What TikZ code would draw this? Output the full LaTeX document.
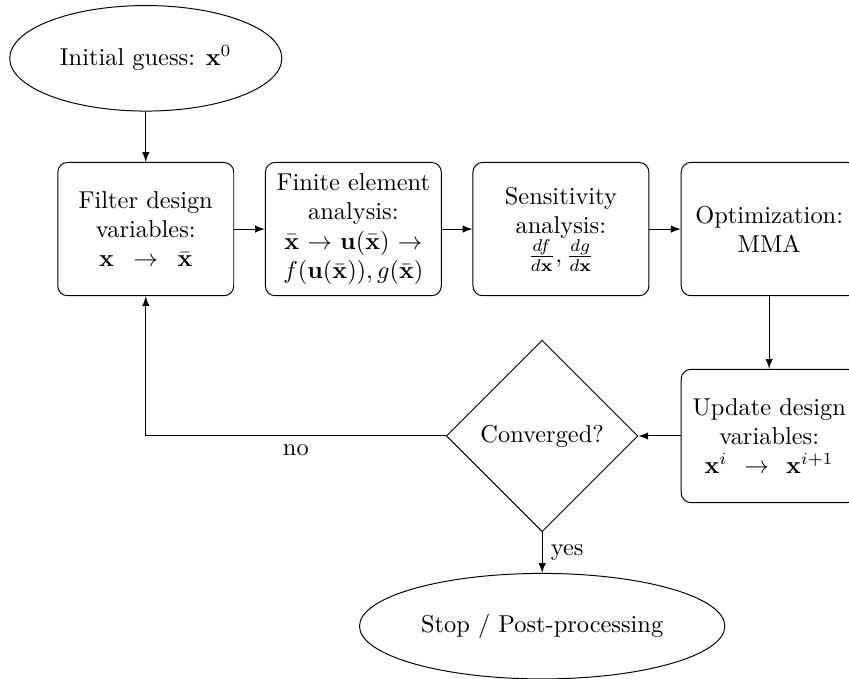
\documentclass[tikz,border=0pt]{standalone}
\usetikzlibrary{shapes.geometric}
\begin{document}
\begin{tikzpicture}[>=latex,
        process/.style={draw, rounded corners, text width=2.3cm, align=center, minimum height=1.92cm},
        terminal/.style={draw, ellipse, minimum height=1.52cm},
        decision/.style={draw, diamond, minimum size=2.76cm, inner sep=0pt}]
        \useasboundingbox (0,0) rectangle (12.23,-9.78);
        \node[terminal, minimum width=3.92cm] (init) at (2.10,-0.84) {Initial guess: $\mathbf{x}^0$};
        \node[process] (filter) at (2.10,-3.30) {Filter design variables:\\ $\mathbf{x}\ \rightarrow\ \bar{\mathbf{x}}$};
        \node[process] (fea) at (5.09,-3.30) {Finite element analysis:\\ $\bar{\mathbf{x}} \rightarrow \mathbf{u}(\bar{\mathbf{x}}) \rightarrow$\\ $f(\mathbf{u}(\bar{\mathbf{x}})), g(\bar{\mathbf{x}})$};
        \node[process] (sens) at (8.08,-3.30) {Sensitivity analysis:\\ $\frac{df}{d\mathbf{x}}, \frac{dg}{d\mathbf{x}}$};
        \node[process] (opt) at (11.08,-3.30) {Optimization:\\ MMA};
        \node[process] (update) at (11.08,-6.28) {Update design variables:\\ $\mathbf{x}^i\ \rightarrow\ \mathbf{x}^{i+1}$};
        \node[decision] (conv) at (7.81,-6.28) {Converged?};
        \node[terminal] (stop) at (7.81,-9.02) {Stop / Post-processing};
        \draw[->] (init) -- (filter);
        \draw[->] (filter) -- (fea);
        \draw[->] (fea) -- (sens);
        \draw[->] (sens) -- (opt);
        \draw[->] (opt) -- (update);
        \draw[->] (update) -- (conv);
        \draw[->] (conv) -| node[pos=0.25, below] {no} (filter);
        \draw[->] (conv) -- node[right] {yes} (stop);
    \end{tikzpicture}
\end{document}
